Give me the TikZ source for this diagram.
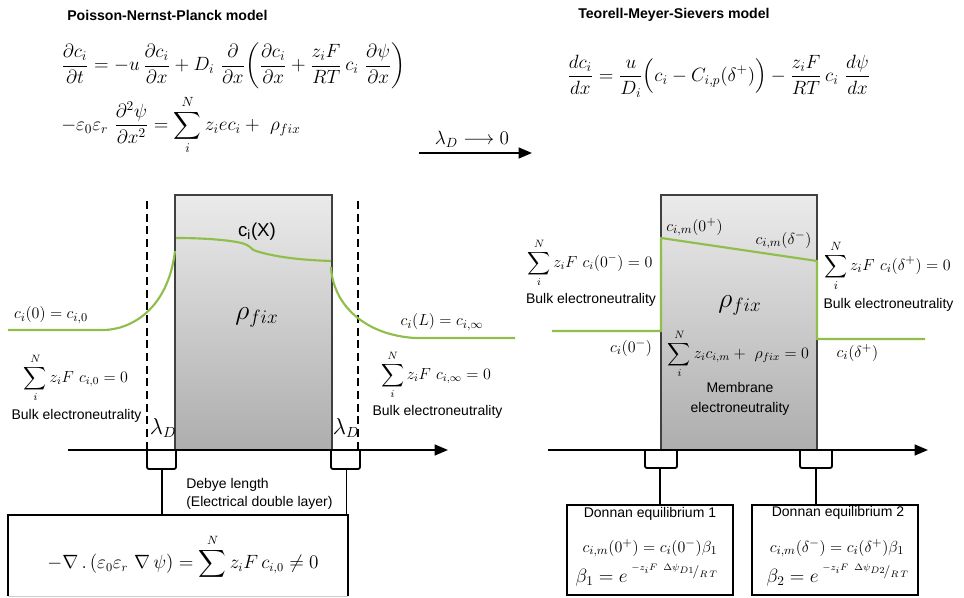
\documentclass[tikz,border=0pt]{standalone}
\usepackage[no-math]{fontspec}
\usepackage{amsmath}
\newfontfamily\arial{Liberation Sans}
\usetikzlibrary{arrows.meta,fit}
\definecolor{curvegreen}{RGB}{143,190,75}

\begin{document}
\begin{tikzpicture}[x=0.75pt,y=-0.75pt,
  sans/.style={font=\arial\fontsize{10.5}{13.5}\selectfont, inner sep=0, align=center},
  title/.style={font=\arial\bfseries\fontsize{10.6}{12.5}\selectfont, inner sep=0},
  eqn/.style={font=\fontsize{13.8}{16}\selectfont, inner sep=0},
  lbl/.style={font=\fontsize{12}{14}\selectfont, inner sep=0},
  pt/.style={font=\fontsize{13}{15}\selectfont, inner sep=0},
  big/.style={font=\fontsize{20}{22}\selectfont, inner sep=0},
  membrane/.style={draw=black!75, line width=1pt, top color=black!8, bottom color=black!32, inner sep=0},
  axis/.style={line width=1.6pt, -{Triangle[length=10pt,width=8pt]}},
  profile/.style={curvegreen, line width=1.6pt},
  wall/.style={line width=1.3pt, dash pattern=on 6pt off 3.5pt},
  bracket/.style={line width=1.4pt, rounded corners=1.5pt},
  stem/.style={line width=1.1pt},
  eqbox/.style={draw, line width=1.5pt, inner sep=0},
  spot/.style={inner sep=0, outer sep=0, minimum size=0}
]
\useasboundingbox (0,0) rectangle (964,598);
\clip (0,0) rectangle (964,598);

% ---------- headings and governing equations ----------
\node[title, anchor=west] (pnpTitle) at (67,15) {Poisson-Nernst-Planck model};
\node[title, anchor=west] (tmsTitle) at (578,15) {Teorell-Meyer-Sievers model};

\node[eqn, anchor=west] (npEq) at (61,66)
  {$\displaystyle \frac{\partial c_i}{\partial t} = -u\,\frac{\partial c_i}{\partial x} + D_i\ \frac{\partial}{\partial x}\!\left(\frac{\partial c_i}{\partial x} + \frac{z_i F}{RT}\, c_i\ \frac{\partial \psi}{\partial x}\right)$};
\node[eqn, anchor=west] (poissonEq) at (61,125)
  {$\displaystyle -\varepsilon_0\varepsilon_r\ \frac{\partial^2 \psi}{\partial x^2} = \sum_i^N z_i e c_i + \ \rho_{fix}$};
\node[eqn, font=\fontsize{14}{16}\selectfont, anchor=west] (tmsEq) at (567,76)
  {$\displaystyle \frac{dc_i}{dx} = \frac{u}{D_i}\Bigl(c_i - C_{i,p}(\delta^+)\Bigr) - \frac{z_i F}{RT}\, c_i\ \frac{d\psi}{dx}$};

% limit arrow between the two models
\node[spot] (limA) at (419,153) {};
\node[spot] (limB) at (532,153) {};
\draw[axis] (limA) -- (limB);
\node[pt, font=\fontsize{14}{16}\selectfont] (limLbl) at (472,139) {$\lambda_D \longrightarrow 0$};

% ---------- Poisson-Nernst-Planck sketch ----------
\node[membrane, fit={(175,195) (332,450)}] (pnpMem) {};
\draw[axis] (68,450) -- (448,450);

\draw[wall] (147,201) -- (147,452);
\draw[wall] (358,201) -- (358,452);

% double-layer brackets on the axis
\draw[bracket] (147,450) -- (147,469) -- (176,469) -- (176,450);
\draw[bracket] (331,450) -- (331,469) -- (360,469) -- (360,450);
\node[spot] (edlL) at (162,469) {};
\node[spot] (edlR) at (346.5,469) {};

\node[fit={(8,515) (348,596)}, inner sep=0] (edlBox) {};
\draw[line width=1.5pt] (edlBox.south west) -- (edlBox.north west) -- (edlBox.north east) -- (edlBox.south east);
\draw[black!20, line width=0.8pt] (edlBox.south west) -- (edlBox.south east);
\draw[stem] (edlL) -- (edlL |- edlBox.north);
\draw[stem] (edlR) -- (edlR |- edlBox.north);

\node[sans, anchor=west, align=left] (debye) at (186,494) {Debye length\\(Electrical double layer)};
\node[eqn, font=\fontsize{13.5}{15}\selectfont] (edlEq) at (183,557)
  {$\displaystyle -\nabla\,.\,(\varepsilon_0\varepsilon_r\ \nabla\,\psi) = \sum^N z_i F\, c_{i,0} \neq 0$};

% concentration profile
\draw[profile] (8,330) -- (103,330) .. controls (130,330) and (168,310) .. (175,251);
\draw[profile] (176,238) .. controls (210,238) and (240,241) .. (247,245)
  .. controls (251,247) and (252,250) .. (256,251)
  .. controls (275,257) and (300,260) .. (331,261);
\draw[profile] (331,267) .. controls (333,305) and (365,335) .. (415,338) -- (515,338);

\node[sans, font=\arial\fontsize{14}{16}\selectfont] (cx) at (257,232) {c\textsubscript{i}(X)};
\node[big] (rhoL) at (257,317) {$\rho_{fix}$};
\node[pt] (c0) at (51,315) {$c_i(0) = c_{i,0}$};
\node[pt] (cL) at (442,322) {$c_i(L) = c_{i,\infty}$};
\node[lbl] (sumL) at (76,378) {$\displaystyle \sum_i^N z_i F\ c_{i,0} = 0$};
\node[lbl] (sumR) at (436,375) {$\displaystyle \sum_i^N z_i F\ c_{i,\infty} = 0$};
\node[sans] (bulkL) at (76.5,416) {Bulk electroneutrality};
\node[sans] (bulkR) at (437.5,412) {Bulk electroneutrality};
\node[eqn, font=\fontsize{16}{18}\selectfont] (lamL) at (163,428) {$\lambda_D$};
\node[eqn, font=\fontsize{16}{18}\selectfont] (lamR) at (346,428) {$\lambda_D$};

% ---------- Teorell-Meyer-Sievers sketch ----------
\node[membrane, fit={(661,195) (817,450)}] (tmsMem) {};
\draw[axis] (548,450) -- (928,450);

\draw[bracket] (645,450) -- (645,468) -- (677,468) -- (677,450);
\draw[bracket] (800,450) -- (800,468) -- (832,468) -- (832,450);
\node[spot] (donL) at (660,468) {};
\node[spot] (donR) at (816,468) {};

\node[eqbox, fit={(567,505) (733,595)}] (don1) {};
\node[eqbox, fit={(752,505) (918,595)}] (don2) {};
\draw[stem] (donL) -- (donL |- don1.north);
\draw[stem] (donR) -- (donR |- don2.north);

\node[sans] (don1T) at (650,514) {Donnan equilibrium 1};
\node[lbl, font=\fontsize{12.5}{14}\selectfont] (don1a) at (650,548) {$c_{i,m}(0^+) = c_i(0^-)\beta_1$};
\node[pt, font=\fontsize{14}{16}\selectfont] (don1b) at (647,575) {$\beta_1 = e^{\;{}^{-z_iF\ \Delta\psi_{D1}}\!/_{R\,T}}$};
\node[sans] (don2T) at (838,513) {Donnan equilibrium 2};
\node[lbl, font=\fontsize{12.5}{14}\selectfont] (don2a) at (837,548) {$c_{i,m}(\delta^-) = c_i(\delta^+)\beta_1$};
\node[pt, font=\fontsize{14}{16}\selectfont] (don2b) at (838,575) {$\beta_2 = e^{\;{}^{-z_iF\ \Delta\psi_{D2}}\!/_{R\,T}}$};

% piecewise profile with Donnan jumps
\draw[profile] (552,331) -- (661,331) -- (661,238) -- (817,261) -- (817,339) -- (925,339);

\node[lbl, font=\fontsize{12.5}{14}\selectfont] (cm0) at (694.5,227) {$c_{i,m}(0^+)$};
\node[pt] (cmd) at (783.5,240) {$c_{i,m}(\delta^-)$};
\node[lbl] (sum0) at (590,263) {$\displaystyle \sum_i^N z_i F\ c_i(0^-) = 0$};
\node[sans] (bulk0) at (591,300) {Bulk electroneutrality};
\node[lbl, font=\fontsize{12.5}{14}\selectfont] (sumd) at (887.5,266) {$\displaystyle \sum_i^N z_i F\ c_i(\delta^+) = 0$};
\node[sans] (bulkd) at (888.5,305) {Bulk electroneutrality};
\node[big] (rhoR) at (740,305) {$\rho_{fix}$};
\node[pt] (c0m) at (631,348) {$c_i(0^-)$};
\node[lbl] (sumM) at (738.5,354) {$\displaystyle \sum_i^N z_i c_{i,m} + \ \rho_{fix} = 0$};
\node[sans, font=\arial\fontsize{10.5}{15}\selectfont] (memEN) at (740,399) {Membrane\\electroneutrality};
\node[pt] (cdp) at (857.5,353) {$c_i(\delta^+)$};
\end{tikzpicture}
\end{document}
